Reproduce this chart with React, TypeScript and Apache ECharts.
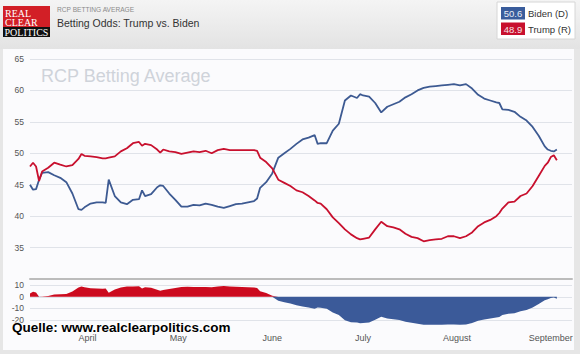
import React, { useEffect, useRef } from "react";
import * as echarts from "echarts";

// Dates (2020) of the daily betting averages
const dates = [
  "03-13","03-14","03-15","03-16","03-17","03-19","03-21","03-23","03-25","03-27",
  "03-29","03-30","03-31","04-02","04-04","04-06","04-07","04-08","04-10","04-12",
  "04-14","04-16","04-18","04-19","04-20","04-22","04-24","04-25","04-26","04-28",
  "04-30","05-02","05-04","05-06","05-08","05-10","05-12","05-14","05-16","05-18",
  "05-20","05-22","05-24","05-26","05-27","05-28","05-30","06-01","06-03","06-05",
  "06-07","06-09","06-11","06-13","06-15","06-16","06-17","06-19","06-21","06-23",
  "06-25","06-27","06-29","06-30","07-01","07-03","07-05","07-07","07-09","07-11",
  "07-13","07-15","07-17","07-19","07-21","07-23","07-25","07-27","07-29","07-31",
  "08-02","08-04","08-06","08-08","08-10","08-12","08-14","08-15","08-16","08-18",
  "08-20","08-22","08-24","08-26","08-28","08-30","08-31","09-01","09-02","09-03",
];

const biden = [
  45.0,44.2,44.3,45.8,46.9,47.0,46.5,46.1,45.4,43.6,
  41.1,41.0,41.4,42.0,42.2,42.2,42.1,45.8,43.2,42.2,
  41.9,42.6,42.7,44.1,43.2,43.5,44.6,44.9,44.8,43.6,
  42.6,41.5,41.5,41.8,41.7,42.0,41.8,41.5,41.3,41.6,
  41.9,42.0,42.2,42.4,42.8,44.5,45.4,46.8,49.3,50.0,
  50.7,51.5,52.2,52.5,52.9,51.5,51.6,51.6,53.6,54.7,
  58.4,59.2,58.8,59.4,59.2,59.0,58.0,56.5,57.4,57.8,
  58.2,58.9,59.4,60.0,60.4,60.6,60.7,60.8,60.9,61.0,
  60.8,61.0,60.3,59.3,58.7,58.4,58.1,58.0,57.0,56.9,
  56.6,55.8,55.2,54.2,52.8,51.1,50.6,50.4,50.3,50.6,
];

const trump = [
  47.9,48.5,47.9,45.6,47.1,47.7,48.5,48.2,47.9,48.1,
  49.1,49.9,49.6,49.5,49.4,49.2,49.2,49.3,49.5,50.3,
  50.8,51.6,51.8,51.2,51.5,51.3,50.6,50.1,50.6,50.3,
  50.2,49.9,50.1,50.3,50.2,50.4,50.0,50.5,50.7,50.5,
  50.5,50.5,50.5,50.5,50.4,49.3,48.6,47.6,45.8,45.3,
  44.8,44.1,43.8,43.2,42.5,42.1,42.0,41.1,39.8,38.9,
  37.9,37.1,36.5,36.3,36.4,36.6,37.9,39.1,38.4,38.2,
  37.9,37.2,36.7,36.5,36.0,36.2,36.3,36.4,36.8,36.8,
  36.5,36.8,37.4,38.4,39.0,39.4,40.0,40.5,41.2,42.2,
  42.3,43.2,43.6,44.8,46.4,48.0,48.5,49.4,49.7,48.9,
];

const monthStarts = ["04-01", "05-01", "06-01", "07-01", "08-01", "09-01"];
const monthNames = ["April", "May", "June", "July", "August", "September"];
const axisStart = "03-13";
const axisEnd = "09-08";

const latestBiden = "50.6";
const latestTrump = "48.9";

const BLUE = "#3d5a92";
const RED = "#c8102e";
const FONT = "'Liberation Sans', Arial, sans-serif";
const SERIF = "'Liberation Serif', serif";

const dayIndex = (s: string) => {
  const [m, d] = s.split("-").map(Number);
  const [m0, d0] = axisStart.split("-").map(Number);
  return Math.round((Date.UTC(2020, m - 1, d) - Date.UTC(2020, m0 - 1, d0)) / 86400000);
};

export default function App() {
  const ref = useRef<HTMLDivElement>(null);

  useEffect(() => {
    if (!ref.current) return;
    const chart = echarts.init(ref.current, null, { renderer: "svg" });
    const days = dates.map(dayIndex);
    const labelDays = monthStarts.map(dayIndex);
    const diff = trump.map((t, i) => +(t - biden[i]).toFixed(2));

    const option: any = {
      animation: false,
      backgroundColor: "#e6e6e6",
      grid: [
        { left: 30, right: 8, top: 59, height: 220 },
        { left: 30, right: 8, top: 279.5, height: 46 },
      ],
      xAxis: [
        {
          gridIndex: 0, type: "value", min: 0, max: dayIndex(axisEnd),
          axisLine: { show: true, onZero: false, lineStyle: { color: "#bcbcbc", width: 2 } },
          axisTick: { show: false }, axisLabel: { show: false }, splitLine: { show: false },
        },
        {
          gridIndex: 1, type: "value", min: 0, max: dayIndex(axisEnd),
          axisLine: { show: false, onZero: false }, axisTick: { show: false }, splitLine: { show: false },
          axisLabel: {
            customValues: labelDays,
            formatter: (v: number) => monthNames[labelDays.indexOf(Math.round(v))] ?? "",
            color: "#555", fontSize: 9, fontFamily: FONT, margin: 8,
          },
        },
      ],
      yAxis: [
        {
          gridIndex: 0, type: "value", min: 30, max: 65, interval: 5,
          axisLine: { show: false }, axisTick: { show: false },
          axisLabel: { formatter: (v: number) => (v === 30 ? "" : String(v)), color: "#555", fontSize: 8.5, fontFamily: FONT, margin: 6 },
          splitLine: { lineStyle: { color: "#e0e3e9" } },
        },
        {
          gridIndex: 1, type: "value", min: -25, max: 15, interval: 5,
          axisLine: { show: false }, axisTick: { show: false },
          axisLabel: { formatter: (v: number) => (v % 10 === 0 && v <= 10 ? String(v) : ""), color: "#555", fontSize: 8.5, fontFamily: FONT, margin: 6 },
          splitLine: { lineStyle: { color: ["rgba(0,0,0,0)", "#e0e3e9"] } },
        },
      ],
      series: [
        {
          name: "Biden (D)", type: "line", xAxisIndex: 0, yAxisIndex: 0, symbol: "none",
          data: days.map((d, i) => [d, biden[i]]), lineStyle: { color: BLUE, width: 1.8 }, itemStyle: { color: BLUE }, z: 3,
        },
        {
          name: "Trump (R)", type: "line", xAxisIndex: 0, yAxisIndex: 0, symbol: "none",
          data: days.map((d, i) => [d, trump[i]]), lineStyle: { color: RED, width: 1.8 }, itemStyle: { color: RED }, z: 4,
        },
        {
          name: "Trump lead", type: "line", xAxisIndex: 1, yAxisIndex: 1, symbol: "none",
          data: days.map((d, i) => [d, Math.max(diff[i], 0)]),
          lineStyle: { width: 0 }, areaStyle: { color: "#cc0a1e", opacity: 1 },
        },
        {
          name: "Biden lead", type: "line", xAxisIndex: 1, yAxisIndex: 1, symbol: "none",
          data: days.map((d, i) => [d, Math.min(diff[i], 0)]),
          lineStyle: { width: 0 }, areaStyle: { color: "#3b5a99", opacity: 1 },
        },
      ],
      graphic: [
        {
          type: "rect", z: -20, shape: { x: 0, y: 0, width: 580, height: 49 },
          style: { fill: { type: "linear", x: 0, y: 0, x2: 0, y2: 1, colorStops: [{ offset: 0, color: "#f4f4f4" }, { offset: 1, color: "#e3e3e3" }] } },
        },
        { type: "rect", z: -20, shape: { x: 3, y: 49, width: 571, height: 301 }, style: { fill: "#fbfbfd" } },
        {
          type: "text", z: -10, x: 41, y: 76,
          style: { text: "RCP Betting Average", fill: "#cfd3da", font: `18px ${FONT}`, verticalAlign: "middle", textVerticalAlign: "middle" },
        },
        // logo
        { type: "rect", z: 50, shape: { x: 3, y: 6, width: 47, height: 21 }, style: { fill: "#d21f26" } },
        { type: "rect", z: 50, shape: { x: 3, y: 27, width: 47, height: 10 }, style: { fill: "#111" } },
        { type: "text", z: 51, x: 5, y: 13, style: { text: "REAL", fill: "#fff", font: `10px ${SERIF}`, lineHeight: 8, verticalAlign: "middle", textVerticalAlign: "middle" } },
        { type: "text", z: 51, x: 5, y: 22, style: { text: "CLEAR", fill: "#fff", font: `10px ${SERIF}`, lineHeight: 8, verticalAlign: "middle", textVerticalAlign: "middle" } },
        { type: "text", z: 51, x: 4.5, y: 32.5, style: { text: "POLITICS", fill: "#fff", font: `10px ${SERIF}`, lineHeight: 8, verticalAlign: "middle", textVerticalAlign: "middle" } },
        // titles
        { type: "text", z: 50, x: 57, y: 9.5, style: { text: "RCP BETTING AVERAGE", fill: "#8a8a8a", font: `6.6px ${FONT}`, verticalAlign: "middle", textVerticalAlign: "middle" } },
        { type: "text", z: 50, x: 57, y: 23, style: { text: "Betting Odds: Trump vs. Biden", fill: "#333", font: `10.5px ${FONT}`, verticalAlign: "middle", textVerticalAlign: "middle" } },
        // legend
        { type: "rect", z: 50, shape: { x: 497, y: 2, width: 78, height: 37 }, style: { fill: "#fff", stroke: "#d6d6d6", lineWidth: 1 } },
        { type: "rect", z: 51, shape: { x: 501, y: 7, width: 24, height: 12.5 }, style: { fill: "#3a5d9c" } },
        { type: "rect", z: 51, shape: { x: 501, y: 22.5, width: 24, height: 12.5 }, style: { fill: "#c8102e" } },
        { type: "text", z: 52, x: 513, y: 13.5, style: { text: latestBiden, fill: "#e8ecf5", font: `9.5px ${FONT}`, align: "center", textAlign: "center", verticalAlign: "middle", textVerticalAlign: "middle" } },
        { type: "text", z: 52, x: 513, y: 29, style: { text: latestTrump, fill: "#f5e0e3", font: `9.5px ${FONT}`, align: "center", textAlign: "center", verticalAlign: "middle", textVerticalAlign: "middle" } },
        { type: "text", z: 52, x: 528, y: 13.5, style: { text: "Biden (D)", fill: "#333", font: `9.5px ${FONT}`, verticalAlign: "middle", textVerticalAlign: "middle" } },
        { type: "text", z: 52, x: 528, y: 29, style: { text: "Trump (R)", fill: "#333", font: `9.5px ${FONT}`, verticalAlign: "middle", textVerticalAlign: "middle" } },
        // right edge cover & source
        { type: "rect", z: 90, shape: { x: 574, y: 49, width: 6, height: 305 }, style: { fill: "#e6e6e6" } },
        { type: "rect", z: 90, shape: { x: 0, y: 350, width: 580, height: 4 }, style: { fill: "#e6e6e6" } },
        {
          type: "text", z: 100, x: 12, y: 327,
          style: { text: "Quelle: www.realclearpolitics.com", fill: "#000", font: `bold 13.5px ${FONT}`, stroke: "#fff", lineWidth: 1.5, verticalAlign: "middle", textVerticalAlign: "middle" },
        },
      ],
    };
    chart.setOption(option);
    return () => chart.dispose();
  }, []);

  return <div ref={ref} style={{ position: "fixed", left: 0, top: 0, width: 580, height: 354 }} />;
}
